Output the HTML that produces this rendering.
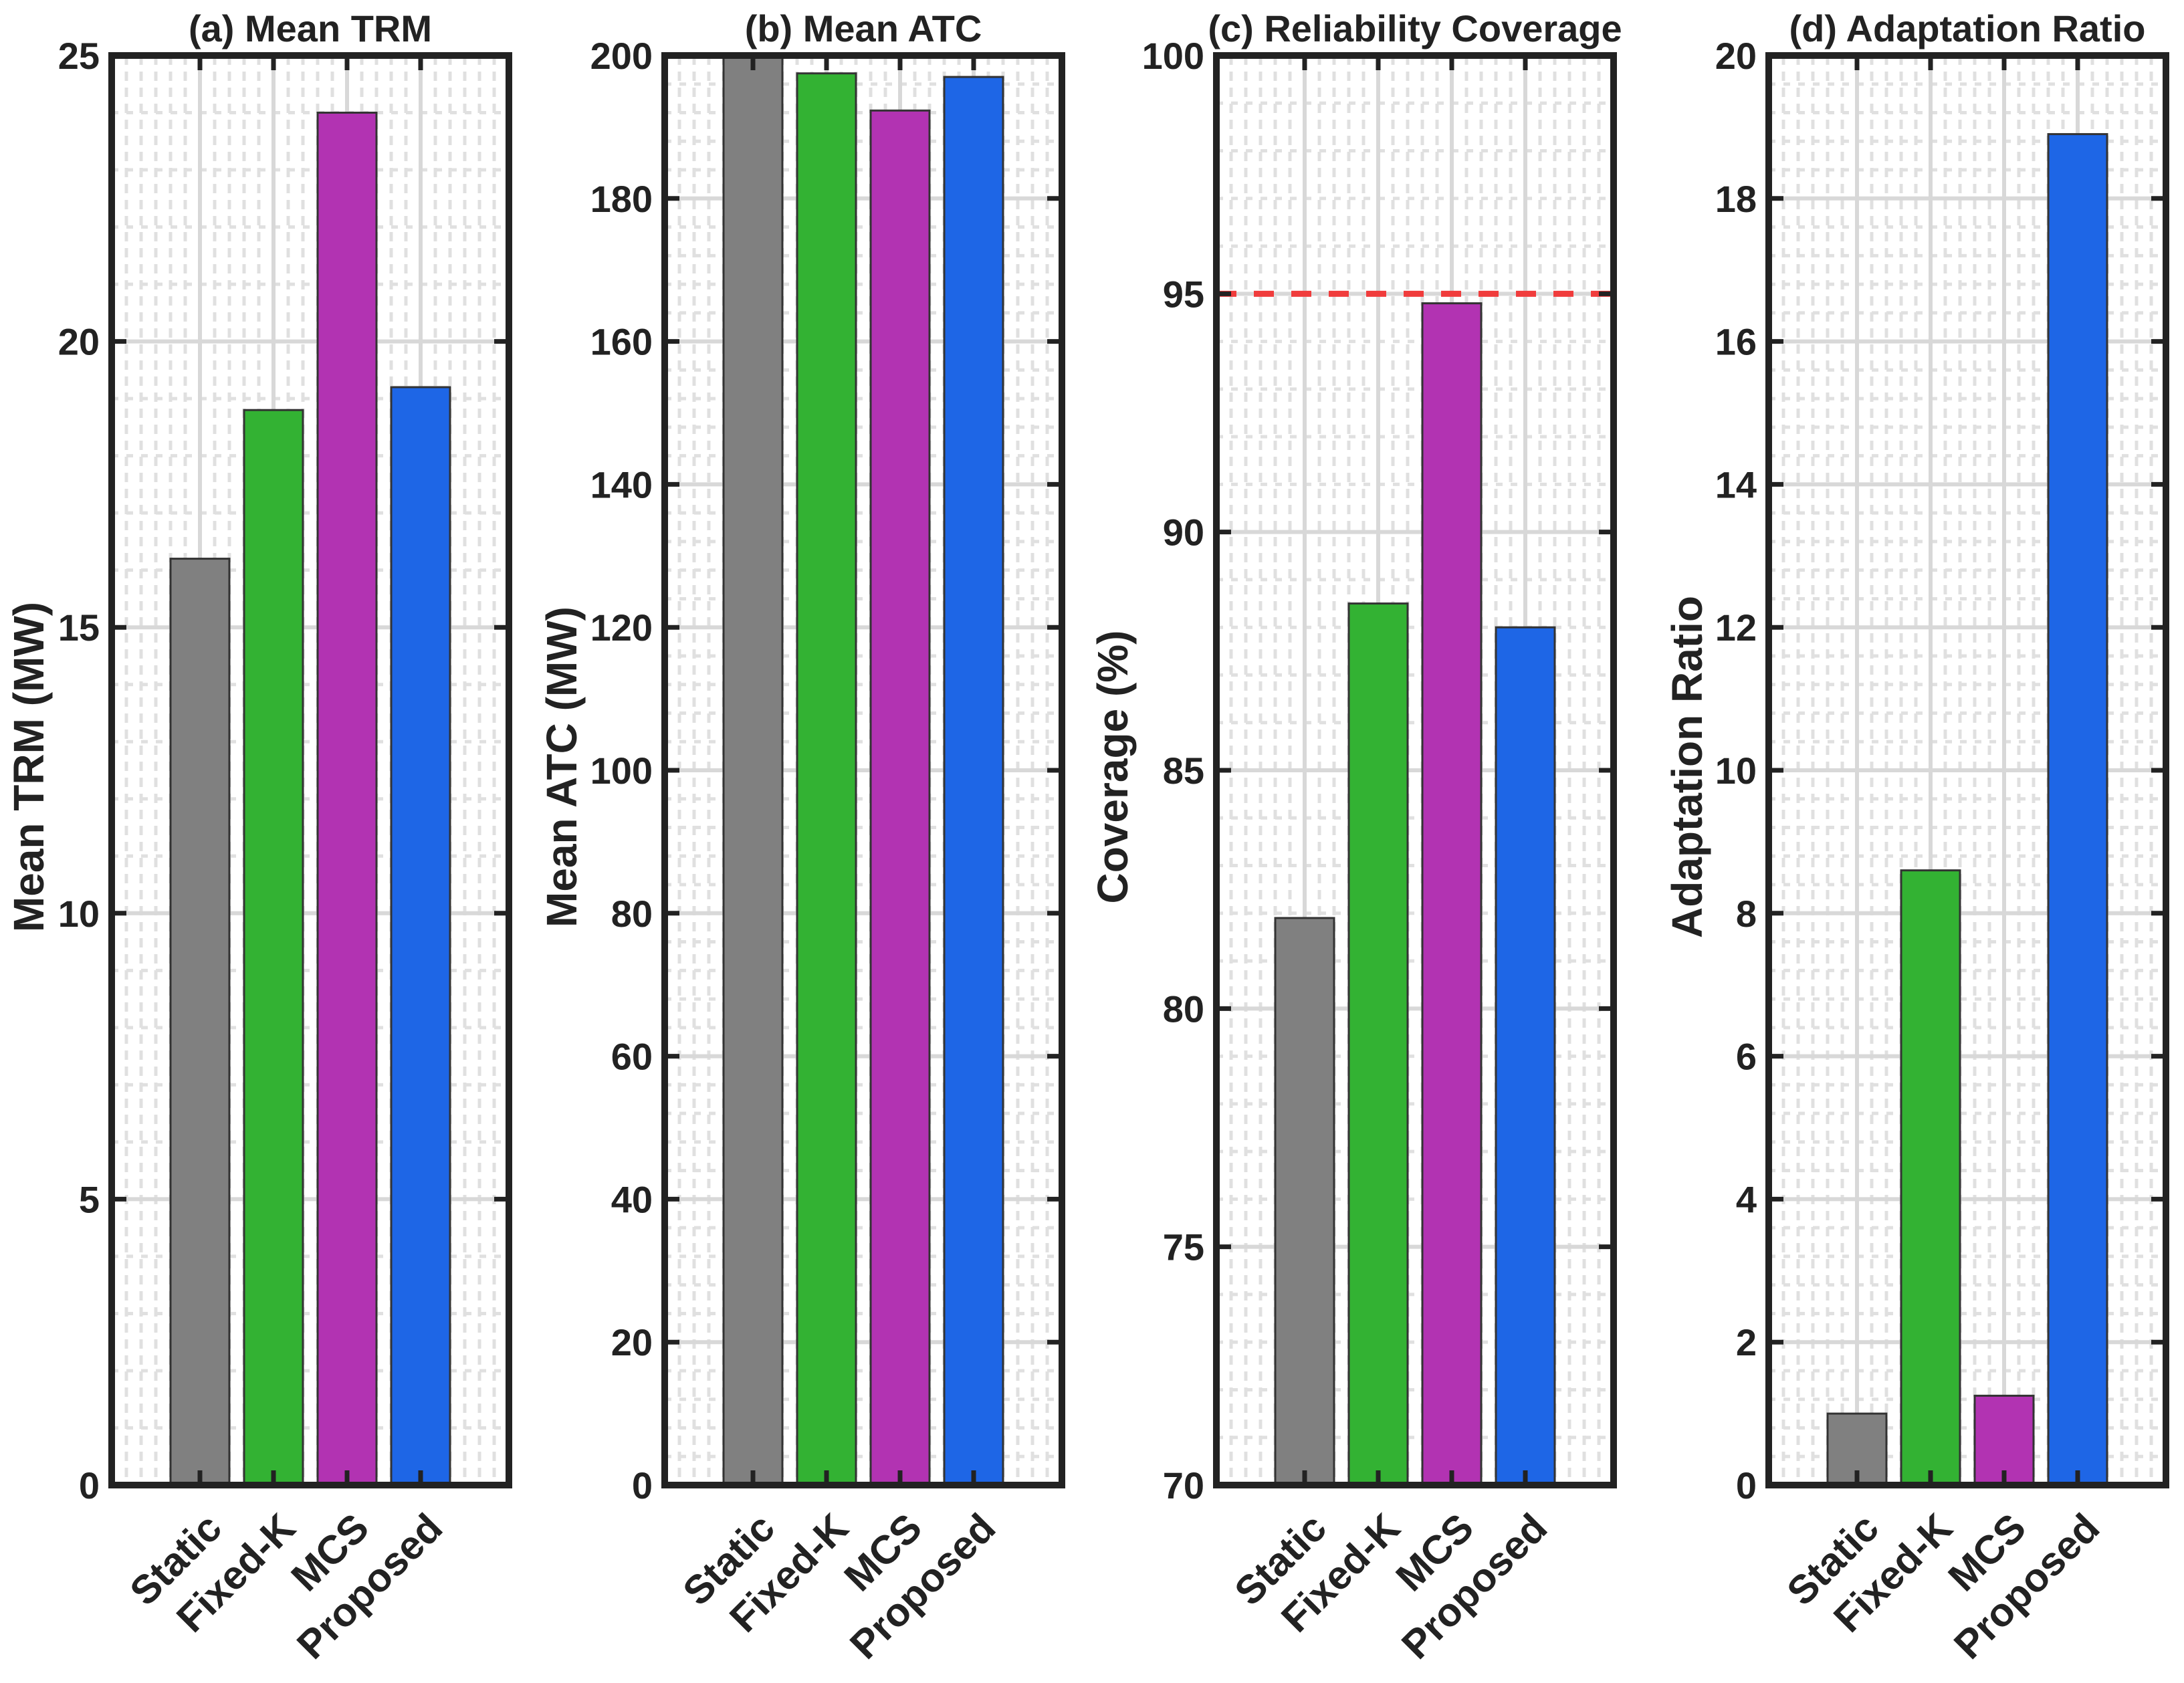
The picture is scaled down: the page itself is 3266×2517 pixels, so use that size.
<!DOCTYPE html>
<html><head><meta charset="utf-8">
<style>
html,body{margin:0;padding:0;background:#fff;}
svg{display:block;}
text{font-family:"Liberation Sans",Arial,sans-serif;font-weight:bold;fill:#222;}
</style></head>
<body>
<svg id="chart" width="3266" height="2517" viewBox="0 0 3266 2517" xmlns="http://www.w3.org/2000/svg"></svg>
<script>
const categories = ["Static","Fixed-K","MCS","Proposed"];
const colors = ["#808080","#33b233","#b233b2","#1e66e6"];
const titles = ["(a) Mean TRM","(b) Mean ATC","(c) Reliability Coverage","(d) Adaptation Ratio"];
const yLabels = ["Mean TRM (MW)","Mean ATC (MW)","Coverage (%)","Adaptation Ratio"];
const trmValues = [16.2, 18.8, 24.0, 19.2];
const atcValues = [200.5, 197.5, 192.3, 197.0];
const coverageValues = [81.9, 88.5, 94.8, 88.0];
const adaptValues = [1.0, 8.6, 1.25, 18.9];
const trmTicks = [0,5,10,15,20,25];
const atcTicks = [0,20,40,60,80,100,120,140,160,180,200];
const coverageTicks = [70,75,80,85,90,95,100];
const adaptTicks = [0,2,4,6,8,10,12,14,16,18,20];
const coverageTarget = 95;

const seriesList = [trmValues, atcValues, coverageValues, adaptValues];
const tickList = [trmTicks, atcTicks, coverageTicks, adaptTicks];
const panelLefts = [167, 994, 1819, 2645];
const yTitleOffsets = [102, 132, 133, 100];
const axW = 594, axTop = 83, axBot = 2221;
const NS = "http://www.w3.org/2000/svg";
const svg = document.getElementById("chart");
function mk(tag, attrs, parent){const e=document.createElementNS(NS,tag);for(const k in attrs)e.setAttribute(k,attrs[k]);(parent||svg).appendChild(e);return e;}

for(let p=0;p<4;p++){
  const L=panelLefts[p], R=L+axW;
  const ticks=tickList[p], vals=seriesList[p];
  const ymin=ticks[0], ymax=ticks[ticks.length-1];
  const y=v=>axBot-(Math.min(Math.max(v,ymin),ymax)-ymin)/(ymax-ymin)*(axBot-axTop);
  const xStep=axW/5.4;
  const x=i=>L+(i+1.2)*xStep;
  const g=mk("g",{});
  
  
  for(let k=0;k<=27;k++){
    const xx=L+k*xStep/5;
    if(xx<=L+4||xx>=R-4) continue;
    mk("line",{x1:xx,y1:axTop,x2:xx,y2:axBot,stroke:"#e0e0e0","stroke-width":5,"stroke-dasharray":"14 10"},g);
  }
  const nMinor=(ticks.length-1)*5;
  for(let k=1;k<nMinor;k++){
    const yy=axTop+k*(axBot-axTop)/nMinor;
    mk("line",{x1:L,y1:yy,x2:R,y2:yy,stroke:"#e0e0e0","stroke-width":5,"stroke-dasharray":"10 12"},g);
  }
  for(let i=0;i<4;i++) mk("line",{x1:x(i),y1:axTop,x2:x(i),y2:axBot,stroke:"#d8d8d8","stroke-width":6},g);
  ticks.forEach(t=>{mk("line",{x1:L,y1:y(t),x2:R,y2:y(t),stroke:"#d8d8d8","stroke-width":6},g);});
  vals.forEach((v,i)=>{
    const b=mk("rect",{x:x(i)-0.4*xStep,y:y(v),width:0.8*xStep,height:axBot-y(v),fill:colors[i],stroke:"#333","stroke-width":3},g);
    
    
  });
  if(p===2){
    const rl=mk("line",{x1:L,y1:y(coverageTarget),x2:R,y2:y(coverageTarget),stroke:"#f03c3c","stroke-width":9,"stroke-dasharray":"30 26"},g);
    
    
  }
  ticks.forEach(t=>{
    mk("line",{x1:L,y1:y(t),x2:L+22,y2:y(t),stroke:"#222","stroke-width":7},g);
    mk("line",{x1:R-22,y1:y(t),x2:R,y2:y(t),stroke:"#222","stroke-width":7},g);
    const tl=mk("text",{x:L-18,y:y(t)+20,"text-anchor":"end","font-size":56},g);
    tl.textContent=t;
    
    
  });
  for(let i=0;i<4;i++){
    mk("line",{x1:x(i),y1:axTop,x2:x(i),y2:axTop+22,stroke:"#222","stroke-width":7},g);
    mk("line",{x1:x(i),y1:axBot-22,x2:x(i),y2:axBot,stroke:"#222","stroke-width":7},g);
    const ax=x(i)+36, ay=axBot+68;
    const xl=mk("text",{x:ax,y:ay,"text-anchor":"end","font-size":60,transform:`rotate(-45 ${ax} ${ay})`},g);
    xl.textContent=categories[i];
    
    
  }
  mk("rect",{x:L,y:axTop,width:axW,height:axBot-axTop,fill:"none",stroke:"#222","stroke-width":10},g);
  const tt=mk("text",{x:L+axW/2,y:62,"text-anchor":"middle","font-size":56},g);
  tt.textContent=titles[p];
  
  
  const yx=L-yTitleOffsets[p], yy=(axTop+axBot)/2-5;
  const yl=mk("text",{x:yx,y:yy,"text-anchor":"middle","font-size":64,transform:`rotate(-90 ${yx} ${yy})`},g);
  yl.textContent=yLabels[p];
  
  
}
</script>
</body></html>
